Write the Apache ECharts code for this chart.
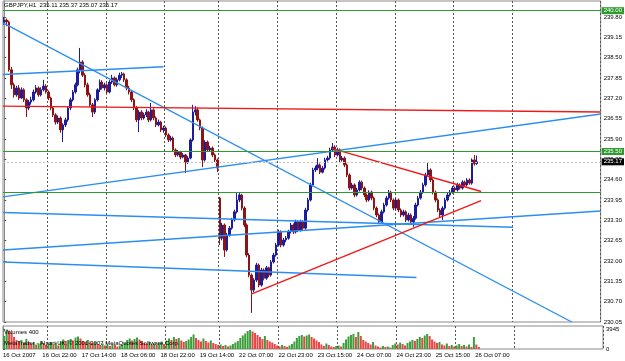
<!DOCTYPE html>
<html>
<head>
<meta charset="utf-8">
<title>GBPJPY,H1</title>
<script src="https://cdn.jsdelivr.net/npm/echarts@6/dist/echarts.min.js"></script>
<style>
  html, body { margin: 0; padding: 0; background: #fff; }
  #chart { width: 625px; height: 361px; }
</style>
</head>
<body>
<div id="chart"></div>
<script>
// time labels under the volume pane, one every 16 bars
const timeLabels = [
  "16 Oct 2007", "16 Oct 22:00", "17 Oct 14:00", "18 Oct 06:00", "18 Oct 22:00",
  "19 Oct 14:00", "22 Oct 07:00", "22 Oct 23:00", "23 Oct 15:00", "24 Oct 07:00",
  "24 Oct 23:00", "25 Oct 15:00", "26 Oct 07:00"
];
// first bar of each new day (dashed separators)
const dayStarts = [18, 42, 66, 88, 112, 136, 160, 184, 208];

// H1 bars, GBPJPY
const opens = [
  239.62, 239.70, 239.64, 238.11, 237.63, 237.31, 237.53, 237.21, 237.47, 237.15,
  236.89, 237.08, 237.15, 237.40, 237.53, 237.31, 237.47, 237.59, 237.40, 237.21,
  236.89, 236.67, 236.44, 236.57, 236.19, 236.35, 236.51, 236.89, 237.15, 237.40,
  237.63, 238.11, 238.36, 237.94, 237.63, 237.31, 236.99, 236.76, 237.15, 237.47,
  237.72, 237.53, 237.63, 237.40, 237.72, 237.85, 237.63, 237.79, 237.94, 237.98,
  237.79, 237.53, 237.40, 237.15, 236.89, 236.51, 236.76, 236.57, 236.67, 236.76,
  236.51, 236.83, 236.57, 236.35, 236.44, 236.19, 236.25, 236.03, 235.87, 235.93,
  235.55, 235.39, 235.48, 235.32, 235.39, 235.16, 235.29, 235.87, 236.76, 236.83,
  236.51, 236.25, 235.23, 235.80, 235.55, 235.61, 235.39, 235.23, 234.01, 232.73,
  233.15, 232.35, 232.83, 233.05, 233.31, 233.57, 233.95, 234.11, 233.69, 233.15,
  232.19, 231.55, 231.07, 231.39, 231.87, 231.23, 231.71, 231.45, 231.78, 231.55,
  231.97, 232.19, 232.51, 232.93, 232.51, 232.67, 232.73, 232.93, 233.15, 232.93,
  233.25, 232.99, 233.25, 233.05, 233.63, 233.95, 234.43, 234.91, 234.97, 235.07,
  234.84, 234.97, 235.23, 235.29, 235.55, 235.64, 235.39, 235.55, 235.23, 235.29,
  235.07, 234.75, 234.33, 234.43, 234.11, 234.27, 234.52, 234.33, 234.11, 233.95,
  234.20, 234.01, 233.69, 233.47, 233.25, 233.57, 233.79, 234.01, 234.20, 233.95,
  233.69, 233.95, 233.63, 233.47, 233.57, 233.31, 233.47, 233.25, 233.37, 233.79,
  234.01, 234.20, 234.43, 234.75, 234.91, 234.59, 234.20, 233.95, 233.63, 233.47,
  233.69, 233.95, 234.11, 234.20, 234.33, 234.27, 234.43, 234.33, 234.52, 234.43,
  234.59, 234.49, 235.23, 235.11
];
const closes = [
  239.70, 239.64, 238.11, 237.63, 237.31, 237.53, 237.21, 237.47, 237.15, 236.89,
  237.08, 237.15, 237.40, 237.53, 237.31, 237.47, 237.59, 237.40, 237.21, 236.89,
  236.67, 236.44, 236.57, 236.19, 236.35, 236.51, 236.89, 237.15, 237.40, 237.63,
  238.11, 238.36, 237.94, 237.63, 237.31, 236.99, 236.76, 237.15, 237.47, 237.72,
  237.53, 237.63, 237.40, 237.72, 237.85, 237.63, 237.79, 237.94, 237.98, 237.79,
  237.53, 237.40, 237.15, 236.89, 236.51, 236.76, 236.57, 236.67, 236.76, 236.51,
  236.83, 236.57, 236.35, 236.44, 236.19, 236.25, 236.03, 235.87, 235.93, 235.55,
  235.39, 235.48, 235.32, 235.39, 235.16, 235.29, 235.87, 236.76, 236.83, 236.51,
  236.25, 235.23, 235.80, 235.55, 235.61, 235.39, 235.23, 234.97, 232.73, 233.15,
  232.35, 232.83, 233.05, 233.31, 233.57, 233.95, 234.11, 233.69, 233.15, 232.19,
  231.55, 231.07, 231.39, 231.87, 231.23, 231.71, 231.45, 231.78, 231.55, 231.97,
  232.19, 232.51, 232.93, 232.51, 232.67, 232.73, 232.93, 233.15, 232.93, 233.25,
  232.99, 233.25, 233.05, 233.63, 233.95, 234.43, 234.91, 234.97, 235.07, 234.84,
  234.97, 235.23, 235.29, 235.55, 235.64, 235.39, 235.55, 235.23, 235.29, 235.07,
  234.75, 234.33, 234.43, 234.11, 234.27, 234.52, 234.33, 234.11, 233.95, 234.20,
  234.01, 233.69, 233.47, 233.25, 233.57, 233.79, 234.01, 234.20, 233.95, 233.69,
  233.95, 233.63, 233.47, 233.57, 233.31, 233.47, 233.25, 233.37, 233.79, 234.01,
  234.20, 234.43, 234.75, 234.91, 234.59, 234.20, 233.95, 233.63, 233.47, 233.69,
  233.95, 234.11, 234.20, 234.33, 234.27, 234.43, 234.33, 234.52, 234.43, 234.59,
  234.49, 235.23, 235.11, 235.17
];
const lows = [
  239.55, 239.50, 238.05, 237.50, 237.22, 237.25, 237.15, 237.18, 237.08, 236.60,
  236.82, 237.00, 237.10, 237.35, 237.25, 237.26, 237.42, 237.35, 237.14, 236.82,
  236.60, 236.36, 236.38, 236.10, 235.80, 236.28, 236.45, 236.82, 237.10, 237.35,
  237.58, 238.00, 237.88, 237.55, 237.25, 236.92, 236.60, 236.70, 237.10, 237.40,
  237.48, 237.45, 237.35, 237.36, 237.66, 237.58, 237.57, 237.74, 237.85, 237.72,
  237.46, 237.32, 237.08, 236.82, 236.44, 236.12, 236.50, 236.52, 236.60, 236.44,
  236.46, 236.50, 236.28, 236.30, 236.12, 236.10, 235.96, 235.80, 235.82, 235.48,
  235.32, 235.34, 235.25, 235.28, 234.81, 235.10, 235.25, 235.82, 236.65, 236.45,
  236.18, 235.00, 235.18, 235.48, 235.50, 235.32, 235.16, 234.84, 232.51, 232.66,
  232.13, 232.30, 232.78, 233.00, 233.26, 233.52, 233.88, 233.62, 233.08, 232.12,
  231.48, 230.34, 231.00, 231.33, 231.16, 231.18, 231.38, 231.40, 231.48, 231.50,
  231.92, 232.14, 232.46, 232.44, 232.46, 232.60, 232.68, 232.88, 232.86, 232.88,
  232.92, 232.94, 232.98, 233.00, 233.58, 233.90, 234.38, 234.84, 234.90, 234.78,
  234.80, 234.92, 235.18, 235.24, 235.50, 235.32, 235.34, 235.16, 235.18, 235.00,
  234.68, 234.26, 234.28, 234.04, 234.06, 234.22, 234.26, 234.04, 233.88, 233.90,
  233.94, 233.62, 233.40, 233.18, 233.20, 233.52, 233.74, 233.96, 233.88, 233.62,
  233.64, 233.56, 233.40, 233.42, 233.24, 233.26, 233.18, 233.09, 233.32, 233.74,
  233.96, 234.15, 234.38, 234.70, 234.52, 234.13, 233.88, 233.56, 233.40, 233.31,
  233.64, 233.90, 234.06, 234.15, 234.20, 234.22, 234.28, 234.28, 234.38, 234.38,
  234.44, 234.44, 235.05, 235.07
];
const highs = [
  239.80, 239.75, 239.68, 238.20, 237.70, 237.60, 237.62, 237.55, 237.52, 237.20,
  237.15, 237.25, 237.48, 237.62, 237.58, 237.55, 237.79, 237.65, 237.45, 237.25,
  236.95, 236.72, 236.65, 236.62, 236.40, 236.58, 236.95, 237.22, 237.46, 237.70,
  238.18, 238.81, 238.42, 238.00, 237.70, 237.38, 237.05, 237.20, 237.52, 237.80,
  237.78, 237.70, 237.68, 237.78, 237.95, 237.90, 237.86, 238.02, 238.04, 238.02,
  237.84, 237.60, 237.45, 237.20, 236.95, 236.82, 236.82, 236.74, 236.85, 236.80,
  237.05, 236.88, 236.62, 236.52, 236.48, 236.32, 236.30, 236.08, 236.00, 235.98,
  235.60, 235.55, 235.52, 235.45, 235.42, 235.35, 235.92, 236.99, 236.95, 236.90,
  236.55, 236.30, 235.86, 235.85, 235.68, 235.66, 235.44, 235.28, 234.05, 233.22,
  233.20, 232.90, 233.12, 233.38, 233.64, 234.20, 234.18, 234.15, 233.75, 233.20,
  232.25, 231.60, 231.45, 231.94, 231.92, 231.78, 231.76, 231.84, 231.82, 232.03,
  232.26, 232.58, 233.00, 232.98, 232.74, 232.80, 233.00, 233.22, 233.20, 233.32,
  233.30, 233.32, 233.30, 233.70, 234.02, 234.50, 234.98, 235.05, 235.29, 235.12,
  235.04, 235.30, 235.36, 235.62, 235.77, 235.70, 235.62, 235.60, 235.36, 235.34,
  235.12, 234.80, 234.50, 234.48, 234.34, 234.58, 234.57, 234.38, 234.16, 234.26,
  234.25, 234.06, 233.74, 233.52, 233.64, 233.86, 234.08, 234.27, 234.25, 234.00,
  234.02, 234.00, 233.68, 233.64, 233.62, 233.54, 233.52, 233.44, 233.86, 234.08,
  234.27, 234.50, 234.82, 235.13, 234.96, 234.64, 234.25, 234.00, 233.68, 233.75,
  234.02, 234.18, 234.27, 234.40, 234.38, 234.50, 234.48, 234.58, 234.57, 234.65,
  234.64, 235.28, 235.39, 235.37
];
const volumes = [
  2600, 3900, 3700, 3200, 2400, 1800,
  1500, 1800, 1200, 2000, 1400, 1000, 1300, 900, 1100, 1600,
  1200, 800, 1000, 1400, 900, 1300, 700, 1500, 1900, 1600,
  1800, 2000, 1700, 2300, 2500, 2100, 1600, 1400, 1800, 1500,
  1200, 1400, 1000, 800, 1100, 700, 900, 600, 1000, 800,
  500, 700, 900, 1300, 1800, 2100, 1700, 2000, 2300, 1900,
  1500, 1200, 1000, 1300, 900, 1100, 800, 1200, 1500, 1000,
  1700, 2100, 1800, 2400, 2000, 2200, 1700, 1400, 1600, 1900,
  2400, 2900, 2200, 1800, 1500, 2100, 1600, 1300, 1700, 1200, 1000, 800,
  900, 600, 800, 500, 700, 1000, 1300, 1600, 2200, 2700,
  3100, 3600, 3800, 3500, 3200, 2800, 2400, 2000, 2600, 1800,
  1500, 1300, 1000, 700, 500, 800, 600, 400, 700, 1000,
  1500, 2200, 2600, 2800, 2500, 2700, 2900, 2400, 2100, 1700,
  1400, 900, 600, 1100, 800, 500, 400, 600, 700, 500,
  1200, 1900, 2500, 2800, 3000, 2400, 3400, 2600, 1800, 1500,
  1200, 900, 1400, 700, 500, 300, 600, 400, 500, 300,
  800, 1100, 900, 1300, 1000, 700, 1200, 1500, 1800, 1600,
  2000, 2400, 2200, 2700, 3000, 2600, 1900, 1500, 1200, 1400,
  900, 700, 1100, 600, 800, 500, 700, 1000, 600, 800,
  500, 900, 400, 2400, 900, 400
];

// horizontal levels and current bid
const greenLevels = [240.00, 235.50, 234.20];
const labelledLevels = [240.00, 235.50];
const bidPrice = 235.17;

// trend lines: [bar1, price1, bar2, price2]
const blueLines = [
  [-0.5, 239.61, 231.7, 230.05],
  [-0.5, 237.96, 65.0, 238.21],
  [-0.5, 234.05, 243.5, 236.70],
  [-0.5, 233.55, 207.7, 233.08],
  [-0.5, 232.35, 243.5, 233.60],
  [-0.5, 231.97, 168.3, 231.47]
];
const redLines = [
  [-0.5, 236.95, 243.5, 236.76],
  [133.7, 235.60, 194.7, 234.22],
  [100.8, 230.94, 194.7, 233.93]
];

const nSlots = 244;
const slots = Array.from({ length: nSlots }, (_, i) => i);
const candles = closes.map((c, i) => [opens[i], c, lows[i], highs[i]]);
// MT4 volumes: green when volume grows, red otherwise
const volumeBars = volumes.map((v, i) => ({
  value: v,
  itemStyle: { color: i === 0 || v > volumes[i - 1] ? "#3a9e3a" : "#e84545" },
}));

const font = "Liberation Sans";
const small = { fontSize: 6, color: "#000", fontFamily: font };

const trend = (list, color) =>
  list.map((l) => ({
    type: "line",
    xAxisIndex: 2,
    yAxisIndex: 0,
    data: [[l[0], l[1]], [l[2], l[3]]],
    symbol: "none",
    silent: true,
    z: 4,
    lineStyle: { color: color, width: 1.4 },
  }));

const levelLines = greenLevels.map((p) => ({
  yAxis: p,
  lineStyle: { color: "#2f9a2f", width: 1.2, type: "solid" },
  label: labelledLevels.includes(p)
    ? { show: true, position: "end", distance: 1, formatter: p.toFixed(2),
        backgroundColor: "#2f9a2f", color: "#fff", padding: [1, 2, 0, 2], fontSize: 6, fontFamily: font }
    : { show: false },
}));
levelLines.push({
  yAxis: bidPrice,
  lineStyle: { color: "#c4c4c4", width: 1, type: [2, 2] },
  label: { show: true, position: "end", distance: 1, formatter: bidPrice.toFixed(2),
    backgroundColor: "#000", color: "#fff", padding: [1, 2, 0, 2], fontSize: 6, fontFamily: font },
});

const chart = echarts.init(document.getElementById("chart"));

const option = {
  animation: false,
  backgroundColor: "#fff",
  textStyle: { fontFamily: font },
  title: [
    { text: "GBPJPY,H1  235.11 235.37 235.07 235.17", left: 4, top: 2, padding: 0,
      textStyle: { ...small, fontWeight: "normal" } },
    { text: "Volumes 400", left: 4, top: 329, padding: 0,
      textStyle: { ...small, fontWeight: "normal" } },
    { text: "MetaTrader - Alpari UK, \u00a9 2001-2007 MetaQuotes Software Corp.", left: 4, top: 340, padding: 0,
      textStyle: { ...small, fontWeight: "normal" } },
  ],
  grid: [
    { left: 3, right: 22, top: 1, height: 321, show: true, borderColor: "#8a8a8a", borderWidth: 1 },
    { left: 3, right: 22, top: 326, height: 23, show: true, borderColor: "#8a8a8a", borderWidth: 1 },
  ],
  xAxis: [
    {
      type: "category", gridIndex: 0, data: slots, position: "bottom",
      axisLine: { show: false }, axisTick: { show: false }, axisLabel: { show: false },
      splitLine: { show: true, interval: (i) => dayStarts.includes(i),
        lineStyle: { color: "#555", width: 1, type: [2, 2] } },
    },
    {
      type: "category", gridIndex: 1, data: slots, position: "top",
      axisLine: { show: false }, axisTick: { show: false }, axisLabel: { show: false },
      splitLine: { show: true, interval: (i) => dayStarts.includes(i),
        lineStyle: { color: "#555", width: 1, type: [2, 2] } },
    },
    { type: "value", gridIndex: 0, min: -0.5, max: 243.5, show: false, position: "top" },
    {
      type: "value", gridIndex: 1, min: 0, max: 244, interval: 16, position: "bottom",
      axisLine: { show: false }, axisTick: { show: false }, splitLine: { show: false },
      axisLabel: { ...small, align: "left", margin: 3, showMaxLabel: false,
        formatter: (v) => timeLabels[Math.round(v / 16)] || "" },
    },
  ],
  yAxis: [
    {
      type: "value", gridIndex: 0, position: "right", min: 230.05, max: 240.31, interval: 0.65,
      axisLine: { show: true, lineStyle: { color: "#8a8a8a" } },
      axisTick: { show: true, length: 2, lineStyle: { color: "#555" } },
      splitLine: { show: false },
      axisLabel: { ...small, margin: 3, showMaxLabel: false, formatter: (v) => v.toFixed(2) },
    },
    {
      type: "value", gridIndex: 1, position: "right", min: 0, max: 4600, interval: 3945,
      axisLine: { show: true, lineStyle: { color: "#8a8a8a" } },
      axisTick: { show: true, length: 2, lineStyle: { color: "#555" } },
      splitLine: { show: false },
      axisLabel: { ...small, margin: 3, showMaxLabel: false, formatter: (v) => String(Math.round(v)) },
    },
  ],
  series: [
    {
      name: "GBPJPY",
      type: "candlestick",
      xAxisIndex: 0,
      yAxisIndex: 0,
      data: candles,
      barWidth: 2,
      z: 3,
      itemStyle: {
        color: "#1c1c9c", borderColor: "#1c1c9c",
        color0: "#8c1414", borderColor0: "#8c1414", borderWidth: 1,
      },
      markLine: { silent: true, symbol: "none", animation: false, z: 5, data: levelLines },
    },
    {
      name: "Volumes",
      type: "bar",
      xAxisIndex: 1,
      yAxisIndex: 1,
      data: volumeBars,
      barWidth: 2,
    },
    ...trend(blueLines, "#2b8ef0"),
    ...trend(redLines, "#f01818"),
  ],
};

chart.setOption(option);
</script>
</body>
</html>
